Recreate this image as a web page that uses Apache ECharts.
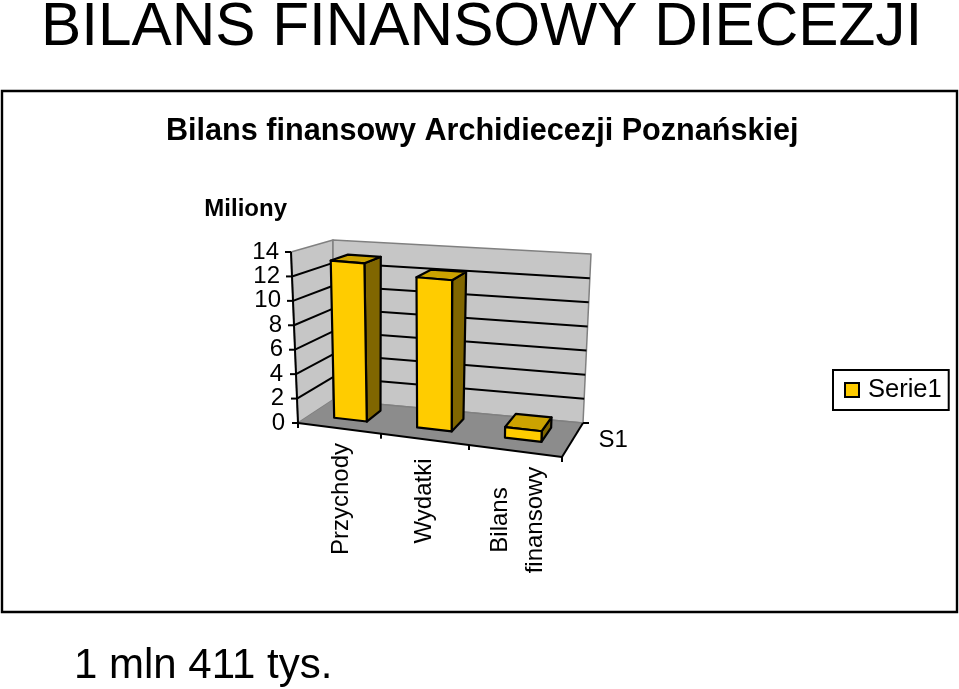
<!DOCTYPE html>
<html><head><meta charset="utf-8">
<style>html,body{margin:0;padding:0;background:#fff}#c{width:959px;height:689px}</style>
<script src="https://cdn.jsdelivr.net/npm/echarts@6/dist/echarts.min.js"></script>
</head><body><div id="c"></div>
<script>
const categories = ['Przychody', 'Wydatki', 'Bilans\nfinansowy'];
const values = [13.1, 12.3, 0.85];
const yTicks = [0, 2, 4, 6, 8, 10, 12, 14];
const depthCategories = ['S1'];
const seriesName = 'Serie1';

const FONT = '"Liberation Sans", Arial, sans-serif';
const BLACK = '#000', GREY = '#808080', WALL = '#c6c6c6', FLOOR = '#8c8c8c';
const FRONT = '#ffcc00', SIDE = '#806600', TOP = '#cca300';

// Perspective-like projection: corners of the 3D box, as offsets from the grid's bottom-left corner.
const corners = {
  f0: [[0, 0], [264, 34]], f1: [[-7, -171], [267, -146]],
  b0: [[35, -23], [285, 0]], b1: [[35, -183], [293, -169]]
};
const lerp = (a, b, t) => [a[0] + (b[0] - a[0]) * t, a[1] + (b[1] - a[1]) * t];
function project(cs, u, depth, h) {
  const w = 0.915 * u + 0.085 * u * u;   // slight foreshortening along the category axis
  const f = lerp(lerp(corners.f0[0], corners.f0[1], w), lerp(corners.f1[0], corners.f1[1], w), h);
  const b = lerp(lerp(corners.b0[0], corners.b0[1], w), lerp(corners.b1[0], corners.b1[1], w), h);
  const p = lerp(f, b, depth);
  return [cs.x + p[0], cs.y + cs.height + p[1]];
}
const frac = (cs, pt) => [(pt[0] - cs.x) / cs.width, (cs.y + cs.height - pt[1]) / cs.height];
const poly = (points, fill, stroke, width) => ({
  type: 'polygon', shape: { points },
  style: { fill: fill, stroke: stroke, lineWidth: width, lineJoin: 'round' }
});
const line = (a, b, stroke, width) => ({
  type: 'line', shape: { x1: a[0], y1: a[1], x2: b[0], y2: b[1] },
  style: { stroke: stroke, lineWidth: width }
});

function renderWalls(params, api) {
  const cs = params.coordSys, P = (u, d, h) => project(cs, u, d, h);
  return { type: 'group', children: [
    poly([P(0,0,0), P(0,1,0), P(0,1,1), P(0,0,1)], WALL, GREY, 1.5),
    poly([P(0,1,0), P(1,1,0), P(1,1,1), P(0,1,1)], WALL, GREY, 1.5),
    poly([P(0,0,0), P(1,0,0), P(1,1,0), P(0,1,0)], FLOOR, 'none', 0),
    line(P(0,1,0), P(1,1,0), GREY, 1.5)
  ]};
}
function renderGridline(params, api) {
  const cs = params.coordSys, P = (u, d, h) => project(cs, u, d, h);
  const v = api.value(0), h = frac(cs, api.coord([0, v]))[1];
  const kids = [];
  if (h > 0 && h < 1) {
    kids.push(line(P(0,0,h), P(0,1,h), BLACK, 2), line(P(0,1,h), P(1,1,h), BLACK, 2));
  }
  const a = P(0,0,h);
  kids.push(line(a, [a[0] - 6, a[1]], BLACK, 2));
  return { type: 'group', children: kids };
}
function renderAxes(params, api) {
  const cs = params.coordSys, P = (u, d, h) => project(cs, u, d, h);
  const kids = [
    line(P(0,0,0), P(0,0,1), BLACK, 2),
    line(P(0,0,0), P(1,0,0), BLACK, 2),
    line(P(1,0,0), P(1,1,0), BLACK, 2)
  ];
  for (let i = 0; i <= categories.length; i++) {
    const p = P(i / categories.length, 0, 0);
    kids.push(line(p, [p[0], p[1] + 5], BLACK, 2));
  }
  const e = P(1, 1, 0);
  kids.push(line(e, [e[0] + 6, e[1]], BLACK, 2));
  const m = P(1, 0.5, 0);
  kids.push({ type: 'text', x: m[0] + 26, y: m[1],
    style: { text: depthCategories[0], font: '24px ' + FONT, fill: BLACK, textAlign: 'left', textVerticalAlign: 'middle' } });
  return { type: 'group', children: kids };
}
const BAR_HALF = 0.2, D0 = 0.35, D1 = 0.78;
function renderBar(params, api) {
  const cs = params.coordSys;
  const i = api.value(0), base = api.coord([i, 0]), top = api.coord([i, api.value(1)]);
  const band = api.size([1, 0])[0];
  const u0 = frac(cs, [base[0] - BAR_HALF * band, 0])[0], u1 = frac(cs, [base[0] + BAR_HALF * band, 0])[0];
  const h = frac(cs, top)[1];
  const P = (u, d, hh) => project(cs, u, d, hh);
  const S = BLACK, W = 2.2;
  return { type: 'group', children: [
    poly([P(u1,D0,0), P(u1,D1,0), P(u1,D1,h), P(u1,D0,h)], SIDE, S, W),
    poly([P(u0,D0,h), P(u1,D0,h), P(u1,D1,h), P(u0,D1,h)], TOP, S, W),
    poly([P(u0,D0,0), P(u1,D0,0), P(u1,D0,h), P(u0,D0,h)], FRONT, S, W)
  ]};
}

const labelPad = { 14: 6, 12: 5, 10: 4, 8: 3, 6: 2, 4: 2, 2: 1, 0: 0 };
const richY = {};
yTicks.forEach(t => { richY['t' + t] = { fontSize: 24, fontFamily: FONT, color: BLACK, padding: [0, labelPad[t], 0, 0] }; });
const catText = { fontSize: 24, fontFamily: FONT, color: BLACK, lineHeight: 35 };
const richX = {
  c0: { ...catText, padding: [0, 0, 2, 0] },
  c1: { ...catText, padding: [0, 4, 12, 0] },
  c2: { ...catText, padding: [0, 42, 0, 0] }
};

const chart = echarts.init(document.getElementById('c'), null, { renderer: 'canvas' });
chart.setOption({
  animation: false,
  backgroundColor: '#fff',
  graphic: [{ type: 'rect', z: -1, shape: { x: 2, y: 91, width: 955, height: 521 },
    style: { fill: '#fff', stroke: '#000', lineWidth: 2.4 } }],
  title: [
    { text: 'BILANS FINANSOWY DIECEZJI', left: 41, top: -2, padding: 0,
      textStyle: { fontFamily: FONT, fontSize: 60.3, fontWeight: 'normal', color: BLACK } },
    { text: 'Bilans finansowy Archidiecezji Poznańskiej', left: 166, top: 116, padding: 0,
      textStyle: { fontFamily: FONT, fontSize: 30.6, fontWeight: 'bold', color: BLACK } },
    { text: '1 mln 411 tys.', left: 74, top: 645, padding: 0,
      textStyle: { fontFamily: FONT, fontSize: 42, fontWeight: 'normal', color: BLACK } }
  ],
  grid: { left: 298, top: 252, width: 264, height: 171, containLabel: false },
  xAxis: {
    type: 'category', data: categories,
    axisLine: { show: false }, axisTick: { show: false }, splitLine: { show: false },
    axisLabel: {
      interval: 0, rotate: 90, margin: 76, align: 'center', verticalAlign: 'middle',
      formatter: (v, i) => v.split('\n').map(s => '{c' + i + '|' + s + '}').join('\n'),
      rich: richX
    }
  },
  yAxis: {
    type: 'value', min: 0, max: 14, interval: 2,
    name: 'Miliony', nameLocation: 'end', nameGap: 31,
    nameTextStyle: { fontFamily: FONT, fontSize: 24, fontWeight: 'bold', color: BLACK, align: 'right', padding: [0, 11, 0, 0] },
    axisLine: { show: false }, axisTick: { show: false }, splitLine: { show: false },
    axisLabel: { margin: 13, formatter: v => '{t' + v + '|' + v + '}', rich: richY }
  },
  legend: {
    data: [seriesName], left: 833, top: 370, orient: 'horizontal',
    padding: [7, 7, 7, 11], borderColor: BLACK, borderWidth: 2,
    icon: 'rect', itemWidth: 14, itemHeight: 14, itemGap: 0,
    itemStyle: { color: FRONT, borderColor: BLACK, borderWidth: 2 },
    textStyle: { fontFamily: FONT, fontSize: 25.5, color: BLACK, padding: [0, 0, 0, 4] }
  },
  series: [
    { type: 'custom', name: 'walls', z: 1, silent: true, renderItem: renderWalls, data: [[0]] },
    { type: 'custom', name: 'gridlines', z: 2, silent: true, renderItem: renderGridline, data: yTicks.map(t => [t]) },
    { type: 'custom', name: 'axes', z: 3, silent: true, renderItem: renderAxes, data: [[0]] },
    { type: 'custom', name: seriesName, z: 4, renderItem: renderBar, itemStyle: { color: FRONT },
      encode: { x: 0, y: 1 }, data: values.map((v, i) => [i, v]) }
  ]
});
</script></body></html>
